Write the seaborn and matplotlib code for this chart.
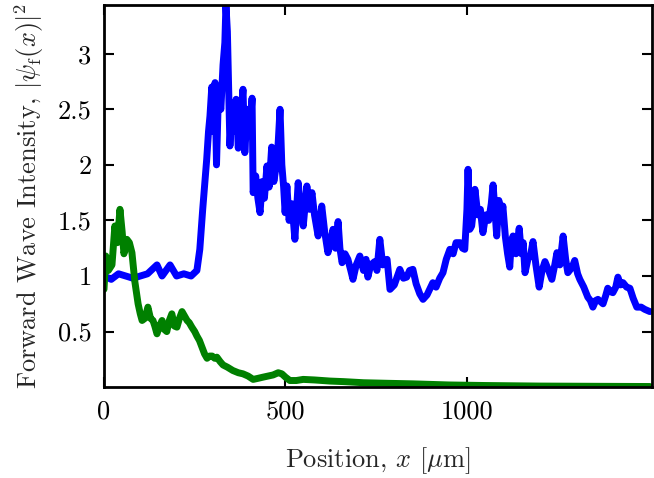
import seaborn as sns
import matplotlib.pyplot as plt
import pandas as pd

# forward wave intensity
x_fwd = [0, 20, 40, 60, 80, 100, 120, 146, 160, 182, 200, 220, 240, 256, 264, 272,
         283, 288, 292, 297, 300, 306, 310, 315, 322, 328, 333, 336, 340, 344, 347,
         352, 358, 364, 370, 376, 383, 388, 395, 402, 408, 411, 418, 424, 430, 436,
         442, 449, 455, 462, 468, 475, 480, 485, 490, 495, 499, 504, 510, 518, 526,
         535, 542, 549, 559, 566, 573, 580, 590, 600, 608, 617, 624, 631, 638, 645,
         650, 656, 664, 672, 680, 686, 695, 705, 715, 722, 727, 735, 746, 752, 760,
         768, 780, 788, 800, 815, 825, 834, 842, 851, 860, 870, 879, 890, 906, 915,
         925, 934, 943, 953, 962, 970, 981, 988, 994, 1000, 1003, 1008, 1013, 1018,
         1022, 1030, 1037, 1044, 1052, 1060, 1067, 1072, 1077, 1082, 1088, 1094,
         1099, 1106, 1112, 1118, 1122, 1127, 1135, 1144, 1150, 1155, 1160, 1168,
         1176, 1182, 1190, 1199, 1207, 1215, 1225, 1234, 1242, 1248, 1256, 1265,
         1272, 1278, 1290, 1297, 1305, 1311, 1322, 1333, 1340, 1347, 1355, 1361,
         1368, 1375, 1382, 1388, 1395, 1402, 1410, 1416, 1423, 1430, 1440, 1449,
         1458, 1468, 1480, 1490, 1504]
y_fwd = [1.0, 0.97, 1.02, 1.0, 0.98, 1.0, 1.02, 1.1, 1.0, 1.1, 1.0, 1.02, 1.0, 1.05,
         1.24, 1.6, 2.05, 2.3, 2.44, 2.7, 2.3, 2.74, 2.0, 2.6, 2.5, 2.9, 3.1, 3.44,
         3.2, 2.6, 2.17, 2.5, 2.3, 2.59, 2.15, 2.4, 2.68, 2.11, 2.5, 2.3, 2.6, 1.75,
         1.9, 1.7, 1.57, 1.85, 1.7, 1.99, 1.8, 2.16, 1.85, 2.0, 2.2, 2.5, 2.0, 1.8,
         1.57, 1.81, 1.5, 1.65, 1.33, 1.84, 1.6, 1.45, 1.81, 1.6, 1.75, 1.55, 1.36,
         1.63, 1.4, 1.21, 1.3, 1.42, 1.25, 1.49, 1.25, 1.12, 1.2, 1.15, 1.05, 0.97,
         1.1, 1.18, 1.05, 1.15, 0.99, 1.1, 1.13, 1.05, 1.33, 1.1, 1.15, 0.88, 0.92,
         1.06, 0.98, 0.99, 1.05, 1.06, 0.93, 0.84, 0.79, 0.83, 0.94, 0.9, 0.98, 1.03,
         1.15, 1.24, 1.2, 1.3, 1.3, 1.25, 1.24, 1.6, 1.96, 1.42, 1.45, 1.6, 1.78,
         1.55, 1.6, 1.39, 1.55, 1.5, 1.65, 1.82, 1.6, 1.36, 1.68, 1.5, 1.63, 1.35,
         1.2, 1.08, 1.3, 1.36, 1.2, 1.43, 1.2, 1.3, 1.03, 1.15, 1.2, 1.31, 1.1, 0.9,
         1.05, 1.13, 1.05, 0.97, 1.1, 1.21, 1.1, 1.36, 1.15, 1.03, 1.08, 1.14, 1.02,
         0.97, 0.9, 0.81, 0.78, 0.72, 0.78, 0.79, 0.77, 0.75, 0.82, 0.89, 0.86,
         0.85, 0.9, 0.99, 0.92, 0.94, 0.9, 0.89, 0.8, 0.72, 0.72, 0.70, 0.68]

# second (decaying) curve
x_dec = [0, 5, 12, 22, 30, 37, 44, 50, 55, 63, 70, 77, 85, 94, 100, 105, 113,
         121, 128, 135, 140, 146, 153, 160, 166, 173, 180, 187, 194, 201, 208, 215,
         222, 229, 235, 242, 250, 256, 263, 270, 277, 284, 291, 298, 305, 311, 320,
         328, 340, 355, 370, 383, 397, 411, 425, 438, 452, 466, 480, 490, 500, 512,
         530, 549, 580, 623, 660, 715, 780, 851, 950, 1050, 1200, 1350, 1504]
y_dec = [0.88, 1.18, 1.05, 1.1, 1.45, 1.3, 1.6, 1.4, 1.2, 1.33, 1.3, 1.21,
         0.95, 0.75, 0.66, 0.6, 0.62, 0.72, 0.62, 0.6, 0.55, 0.48, 0.55, 0.6, 0.52,
         0.5, 0.6, 0.66, 0.55, 0.54, 0.62, 0.68, 0.64, 0.6, 0.58, 0.54, 0.5, 0.46,
         0.42, 0.36, 0.3, 0.26, 0.28, 0.28, 0.26, 0.27, 0.23, 0.2, 0.18, 0.15, 0.13,
         0.12, 0.1, 0.07, 0.08, 0.09, 0.1, 0.11, 0.13, 0.12, 0.09, 0.06,
         0.06, 0.07, 0.065, 0.055, 0.05, 0.04, 0.035, 0.03, 0.02, 0.015, 0.01, 0.008, 0.006]

x_ticks = [0, 500, 1000]
y_ticks = [0.5, 1, 1.5, 2, 2.5, 3]

sns.set_style("ticks")
plt.rcParams['font.family'] = ['cmr10', 'DejaVu Serif']
plt.rcParams['mathtext.fontset'] = 'cm'
plt.rcParams['axes.formatter.use_mathtext'] = True

fig = plt.figure(figsize=(6.54, 4.78), dpi=100)
ax = fig.add_axes([0.159, 0.19, 0.838, 0.80])

df1 = pd.DataFrame({'x': x_fwd, 'y': y_fwd})
df2 = pd.DataFrame({'x': x_dec, 'y': y_dec})
sns.lineplot(data=df1, x='x', y='y', ax=ax, color='#0000ff', lw=5)
sns.lineplot(data=df2, x='x', y='y', ax=ax, color='#008000', lw=5)

ax.set_xlim(0, 1510)
ax.set_ylim(0, 3.44)
ax.set_xticks(x_ticks)
ax.set_xticklabels([str(t) for t in x_ticks])
ax.set_yticks(y_ticks)
ax.set_yticklabels(['0.5', '1', '1.5', '2', '2.5', '3'])
ax.tick_params(direction='in', length=7, width=1.5, top=True, right=True,
               labelsize=19, pad=9, colors='black')
for s in ax.spines.values():
    s.set_linewidth(2)
    s.set_color('black')

ax.set_xlabel(r'Position, $x$ [$\mu$m]', fontsize=19, labelpad=16)
ax.set_ylabel(r'Forward Wave Intensity, $|\psi_{\rm f}(x)|^2$', fontsize=19, labelpad=8)

fig.savefig('out.png', dpi=100)
